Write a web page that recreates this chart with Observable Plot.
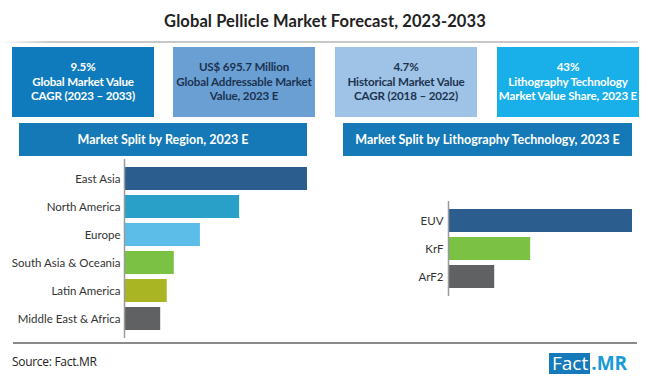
<!DOCTYPE html>
<html>
<head>
<meta charset="utf-8">
<script src="https://cdn.jsdelivr.net/npm/d3@7"></script>
<script src="https://cdn.jsdelivr.net/npm/@observablehq/plot@0.6"></script>
<style>
  html, body { margin: 0; padding: 0; background: #fff; }
  #page { position: relative; width: 650px; height: 377px; overflow: hidden; font-family: Lato, "Open Sans", sans-serif; }
  .abs { position: absolute; }
  #title { left: 0; width: 650px; top: 11px; text-align: center; font-size: 16.5px; font-weight: 700; color: #222; letter-spacing: 0.1px; }
  #titleLine { left: 0; top: 41px; width: 638px; height: 2px; background: linear-gradient(to right, #ffffff, #c8c8c8 8%, #c8c8c8 92%, #d8d8d8); }
  .kpi { top: 47px; width: 142px; height: 70px; display: flex; align-items: center; justify-content: center; text-align: center; font-weight: 700; font-size: 11.6px; line-height: 14.5px; white-space: nowrap; letter-spacing: -0.15px; }
  .hdr { top: 123px; height: 33px; background: #1479b6; color: #fff; display: flex; align-items: center; justify-content: center; font-weight: 700; font-size: 12.5px; white-space: nowrap; }
  #footLine { left: 13px; top: 342px; width: 624px; height: 1.5px; background: #8a8a8a; }
  #source { left: 12px; top: 353px; font-size: 12px; color: #222; font-family: "Open Sans", Lato, sans-serif; letter-spacing: -0.3px; }
  #logo { left: 549px; top: 353px; height: 21px; display: flex; align-items: stretch; font-family: "Open Sans", sans-serif; font-size: 19px; line-height: 21px; }
  #logo .a { background: #1679b9; color: #fff; padding: 0 2px 0 3px; }
  #logo .b { color: #1a9ad6; font-weight: 700; padding-left: 1px; }
</style>
</head>
<body>
<div id="page">
  <div id="title" class="abs">Global Pellicle Market Forecast, 2023-2033</div>
  <div id="titleLine" class="abs"></div>
  <div id="kpis"></div>
  <div class="abs hdr" style="left:19px;width:288px;">Market Split by Region, 2023 E</div>
  <div class="abs hdr" style="left:343px;width:289px;">Market Split by Lithography Technology, 2023 E</div>
  <div id="chartRegion" class="abs" style="left:0;top:150px;"></div>
  <div id="chartTech" class="abs" style="left:330px;top:190px;"></div>
  <div id="footLine" class="abs"></div>
  <div id="source" class="abs">Source: Fact.MR</div>
  <div id="logo" class="abs"><span class="a">Fact</span><span class="b">.MR</span></div>
</div>
<script>
// KPI boxes
const kpiLines = [
  ["9.5%", "Global Market Value", "CAGR (2023 – 2033)"],
  ["US$ 695.7 Million", "Global Addressable Market", "Value, 2023 E"],
  ["4.7%", "Historical Market Value", "CAGR (2018 – 2022)"],
  ["43%", "Lithography Technology", "Market Value Share, 2023 E"]
];
const kpiFill = ["#0f7bbd", "#6a9fd4", "#9ec3e6", "#19afe8"];
const kpiText = ["#ffffff", "#1c3350", "#1c3350", "#ffffff"];

// Region split (estimated share, %)
const regions = ["East Asia", "North America", "Europe", "South Asia & Oceania", "Latin America", "Middle East & Africa"];
const regionValues = [36.4, 22.9, 15.1, 9.9, 8.5, 7.2];
const regionColors = ["#2b5e8f", "#29a0c8", "#5cbde8", "#7bc143", "#a9b523", "#606163"];

// Lithography technology split (estimated share, %)
const techs = ["EUV", "KrF", "ArF2"];
const techValues = [43, 19.2, 10.8];
const techColors = ["#2b5e8f", "#7bc143", "#606163"];

const kpiLeft = [12, 173, 335, 497];
const kpiWrap = document.getElementById("kpis");
kpiLines.forEach((lines, i) => {
  const d = document.createElement("div");
  d.className = "abs kpi";
  d.style.left = kpiLeft[i] + "px";
  d.style.background = kpiFill[i];
  d.style.color = kpiText[i];
  d.innerHTML = lines.join("<br>");
  kpiWrap.appendChild(d);
});

function barChart(cats, vals, colors, opts) {
  const data = cats.map((c, i) => ({cat: c, value: vals[i], color: colors[i]}));
  return Plot.plot({
    width: opts.width,
    height: opts.height,
    marginLeft: opts.marginLeft,
    marginRight: opts.marginRight,
    marginTop: opts.marginTop,
    marginBottom: opts.marginBottom,
    style: {fontFamily: "Lato, 'Open Sans', sans-serif", fontSize: "11.5px", color: "#333", background: "transparent"},
    x: {domain: [0, d3.max(vals)], axis: null},
    y: {domain: cats, paddingInner: 0.174, paddingOuter: opts.po, label: null},
    marks: [
      Plot.barX(data, {x: "value", y: "cat", fill: "color"}),
      Plot.ruleX([0], {stroke: "#9a9a9a", strokeWidth: 1.5}),
      Plot.axisY({tickSize: 0, tickPadding: opts.pad, label: null, fontSize: 11.5})
    ]
  });
}

document.getElementById("chartRegion").appendChild(
  barChart(regions, regionValues, regionColors, {width: 320, height: 195, marginLeft: 124, marginRight: 13, marginTop: 9, marginBottom: 7, po: 0.205, pad: 4})
);
document.getElementById("chartTech").appendChild(
  barChart(techs, techValues, techColors, {width: 320, height: 115, marginLeft: 118, marginRight: 18, marginTop: 11, marginBottom: 9, po: 0.242, pad: 5})
);
</script>
</body>
</html>
